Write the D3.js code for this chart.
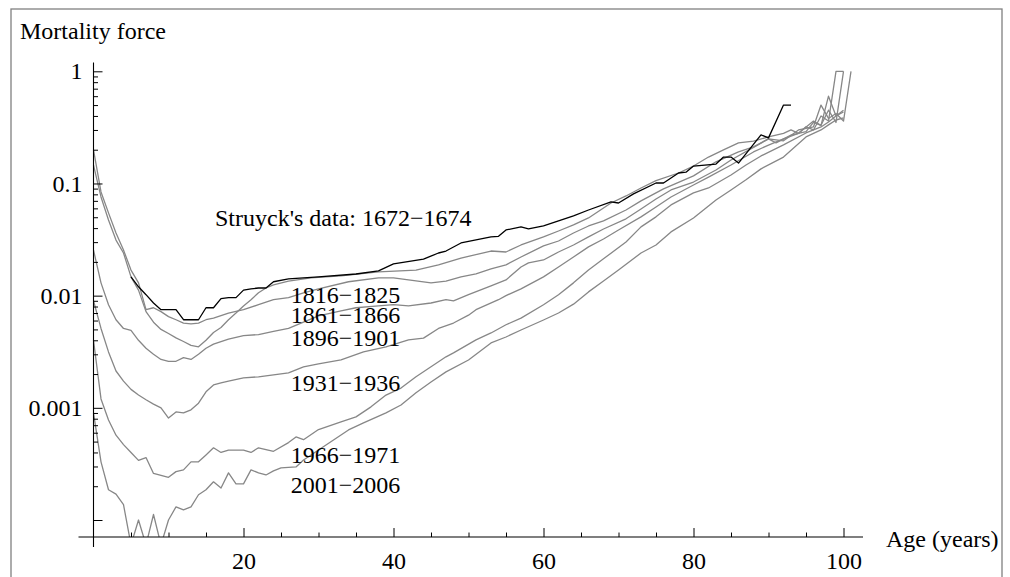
<!DOCTYPE html>
<html>
<head>
<meta charset="utf-8">
<script src="https://cdn.jsdelivr.net/npm/d3@7"></script>
<style>
body { margin: 0; background: #fff; }
svg text { font-family: "Liberation Serif", "Times New Roman", Times, serif; font-size: 24px; fill: #000; }
</style>
</head>
<body>
<svg id="chart" width="1010" height="577"></svg>
<script>
// mortality force by age

var struyckAge = [5,6,7,8,9,10,11,12,13,14,15,16,17,18,19,20,21,22,23,24,26,30,35,38,40,44,46,47,49,53,54,55,57,58,60,62,64,66,69,70,72,75,76,78,79,80,83,84,85,86,89,90,92,93];
var struyckRate = [0.0147,0.0120,0.0102,0.0086,0.0075,0.0075,0.0075,0.0061,0.0061,0.0061,0.0078,0.0078,0.0094,0.0096,0.0096,0.0112,0.0115,0.0117,0.0117,0.0133,
    0.0141,0.0147,0.0156,0.0166,0.0192,0.0212,0.0240,0.0250,0.0295,0.0334,0.0338,0.0385,0.0410,0.0393,0.0418,0.0464,0.0515,0.058,0.0685,0.067,0.0808,
    0.101,0.101,0.124,0.126,0.143,0.149,0.172,0.172,0.152,0.271,0.255,0.50,0.50];

var age1816 = [0,1,2,3,4,5,6,7,8,9,10,11,12,13,14,15,16,17,18,19,20,21,22,23,24,26,29,33,38,43,46,49,53,55,57,60,62,64,66,69,71,73,75,78,80,82,84,86,88,90,92,93,94,95,96,97,98,99,100];
var rate1816 = [0.146,0.0758,0.0473,0.0313,0.024,0.0147,0.0112,0.0072,0.0058,0.0050,0.0046,0.0042,0.0039,0.0036,0.0035,0.0040,0.0047,0.0052,0.0061,0.0070,0.0081,0.0092,0.0106,0.0117,0.0125,
    0.0135,0.0144,0.0150,0.0163,0.0169,0.0188,0.0216,0.0250,0.0245,0.0283,0.0334,0.0377,0.0427,0.0493,0.067,0.0774,0.0912,0.106,0.124,0.143,0.172,0.199,0.23,0.239,
    0.26,0.28,0.30,0.28,0.32,0.30,0.40,0.36,1.0,1.0];

var age1861 = [0,1,2,3,4,5,6,7,8,9,10,11,12,13,14,15,16,18,20,22,24,26,28,30,34,38,40,42,45,47,49,51,53,55,57,60,62,64,66,68,71,73,76,80,83,86,88,90,91,93,95,96,97,98,99,100];
var rate1861 = [0.199,0.084,0.0547,0.0362,0.0255,0.0169,0.0130,0.0075,0.0078,0.0072,0.0065,0.0061,0.0057,0.0056,0.0057,0.0061,0.0063,
    0.0070,0.0075,0.0083,0.0092,0.0096,0.0106,0.0115,0.0133,0.0144,0.0144,0.0138,0.0130,0.0135,0.0147,0.0156,0.0173,0.0188,0.0221,0.0278,0.0307,0.0362,0.0418,0.0464,
    0.058,0.0699,0.0894,0.117,0.156,0.191,0.212,0.25,0.23,0.27,0.29,0.35,0.33,0.45,0.35,1.0];

var age1896 = [0,1,2,3,4,5,6,7,8,9,10,11,12,13,14,15,16,18,20,22,24,26,28,30,33,35,38,40,42,45,47,48,50,53,55,57,58,60,62,64,66,68,71,73,75,77,80,83,85,88,90,92,94,96,97,98,99,100,101];
var rate1896 = [0.0255,0.0130,0.0083,0.0061,0.0051,0.0049,0.0040,0.0034,0.0030,0.0027,0.0026,0.0026,0.0028,0.0027,0.0030,0.0034,0.0037,
    0.0041,0.0044,0.0045,0.0048,0.0051,0.0058,0.0066,0.0073,0.0078,0.0081,0.0083,0.0081,0.0086,0.0092,0.0090,0.0102,0.0122,0.0138,0.0180,0.0196,0.0208,0.0245,0.0283,
    0.0334,0.0393,0.0484,0.0593,0.0728,0.0875,0.103,0.132,0.162,0.21,0.25,0.24,0.30,0.32,0.50,0.38,0.42,0.36,1.0];

var age1931 = [0,1,2,3,4,5,6,7,8,9,10,11,12,13,14,15,16,17,18,20,22,24,26,28,30,33,36,39,42,44,46,48,50,51,54,55,57,60,62,64,66,68,70,73,75,77,80,82,85,88,90,92,94,96,97,98,99,100];
var rate1931 = [0.0090,0.0051,0.00315,0.00213,0.00173,0.00146,0.0013,0.00118,0.00108,0.0010,0.00081,0.00092,0.00090,0.00096,0.0011,0.00139,0.0016,0.00167,0.00173,
    0.00185,0.00189,0.00197,0.00205,0.00232,0.00247,0.00267,0.00315,0.00349,0.00403,0.00418,0.0051,0.0057,0.0067,0.0075,0.0092,0.0100,0.0115,0.0147,0.0180,0.0221,
    0.0272,0.0320,0.0385,0.0504,0.0618,0.0758,0.097,0.114,0.146,0.191,0.22,0.25,0.28,0.36,0.33,0.60,0.40,0.45];

var age1966 = [0,1,2,3,4,5,6,7,8,9,10,11,12,13,14,15,16,17,18,20,21,22,24,26,27,28,30,33,35,37,39,41,43,45,47,48,51,53,55,57,60,62,64,66,68,71,73,75,77,80,82,85,87,89,92,95,97,98,99,100];
var rate1966 = [0.0040,0.0012,0.00078,0.00057,0.00047,0.00040,0.00034,0.00036,0.00026,0.00025,0.00024,0.00027,0.00028,0.00033,0.00033,0.00038,0.00044,0.00040,0.00042,
    0.00042,0.00040,0.00044,0.00041,0.00049,0.00055,0.00052,0.00064,0.00075,0.00083,0.00102,0.0013,0.0015,0.00189,0.00232,0.00285,0.00309,0.00403,0.00465,0.0055,0.0063,
    0.0083,0.0102,0.0130,0.0169,0.0213,0.0301,0.041,0.0504,0.0644,0.0824,0.0912,0.119,0.146,0.176,0.221,0.282,0.319,0.353,0.40,0.434];

var age2001 = [0,1,2,3,4,5,6,7,8,9,10,11,12,13,14,15,16,17,18,19,20,21,22,23,24,25,27,28,30,32,34,36,39,41,43,45,47,50,53,55,57,60,62,64,66,68,70,73,75,77,80,83,85,87,89,92,95,97,98,99,100];
var rate2001 = [0.0009,0.00033,0.000186,0.00017,0.000137,0.00006,0.0001,0.00006,0.000112,0.00006,0.0001,0.000131,0.000123,0.000131,0.000168,0.000186,0.000219,0.000193,0.000263,0.00021,0.00021,0.00028,0.000263,0.000252,0.000274,0.000291,
    0.000297,0.000343,0.000421,0.000517,0.000635,0.000733,0.000902,0.00106,0.00136,0.0017,0.00209,0.00267,0.00379,0.00428,0.00494,0.00607,0.0070,0.0084,0.0108,0.0135,
    0.0169,0.024,0.0283,0.037,0.0493,0.0713,0.0875,0.108,0.135,0.172,0.26,0.30,0.333,0.368,0.384];

var periodNames = ["1816\u22121825", "1861\u22121866", "1896\u22121901", "1931\u22121936", "1966\u22121971", "2001\u22122006"];
var struyckName = "Struyck's data: 1672\u22121674";

var xTicks = [20, 40, 60, 80, 100];
var yTicks = [1e-4, 0.001, 0.01, 0.1, 1];
var yTickLabels = ["", "0.001", "0.01", "0.1", "1"];

// where the curve names sit, in data coordinates (age, rate) of the text baseline start
var labelAge = [26.3, 26.3, 26.3, 26.3, 26.3, 26.3];
var labelRate = [0.00855, 0.00575, 0.00356, 0.00142, 0.00032, 0.000173];
var struyckLabelAt = [16.2, 0.042];

var svg = d3.select("#chart");

var x = d3.scaleLinear().domain([0, 100]).range([93.5, 843.5]);
var y = d3.scaleLog().domain([1e-4, 1]).range([520, 71.3]);

var xLo = -2, xHi = 102.6, yLo = 7.05e-5, yHi = 1.2;

// outer frame
svg.append("rect")
    .attr("x", 11).attr("y", 9)
    .attr("width", 991).attr("height", 600)
    .attr("fill", "none")
    .attr("stroke", "#808080")
    .attr("stroke-width", 1.3);

svg.append("clipPath").attr("id", "plotclip")
    .append("rect")
    .attr("x", x(xLo)).attr("y", y(yHi))
    .attr("width", x(xHi) - x(xLo))
    .attr("height", y(yLo) - y(yHi));

function zip(ages, rates) {
    return ages.map(function(a, i) { return [a, rates[i]]; });
}

var line = d3.line()
    .x(function(d) { return x(d[0]); })
    .y(function(d) { return y(d[1]); });

var periods = [
    zip(age1816, rate1816),
    zip(age1861, rate1861),
    zip(age1896, rate1896),
    zip(age1931, rate1931),
    zip(age1966, rate1966),
    zip(age2001, rate2001)
];

var plot = svg.append("g").attr("clip-path", "url(#plotclip)");

plot.selectAll("path.period")
    .data(periods)
    .enter().append("path")
    .attr("class", "period")
    .attr("d", line)
    .attr("fill", "none")
    .attr("stroke", "#878787")
    .attr("stroke-width", 1.3)
    .attr("stroke-linejoin", "round");

plot.append("path")
    .datum(zip(struyckAge, struyckRate))
    .attr("d", line)
    .attr("fill", "none")
    .attr("stroke", "#000")
    .attr("stroke-width", 1.3)
    .attr("stroke-linejoin", "round");

// axes, Mathematica style: ticks point inward, axes cross at the bottom left
var axisG = svg.append("g").attr("stroke", "#000");

axisG.append("line")
    .attr("x1", x(xLo)).attr("x2", x(xHi))
    .attr("y1", y(yLo)).attr("y2", y(yLo))
    .attr("stroke-width", 1.1);
axisG.append("line")
    .attr("x1", x(0)).attr("x2", x(0))
    .attr("y1", y(yHi)).attr("y2", y(yLo) + 10)
    .attr("stroke-width", 1.1);

var xMinor = d3.range(5, 101, 5).filter(function(v) { return v % 20 != 0; });

var xAxis = d3.axisBottom(x).tickValues(xTicks).tickSize(-9).tickPadding(15).tickFormat(d3.format("d"));
var xAxisMinor = d3.axisBottom(x).tickValues(xMinor).tickSize(-4.5).tickFormat("");

var gx = svg.append("g").attr("transform", "translate(0," + y(yLo) + ")").call(xAxis);
var gx2 = svg.append("g").attr("transform", "translate(0," + y(yLo) + ")").call(xAxisMinor);

var yMinor = [];
[1e-4, 1e-3, 1e-2, 0.1].forEach(function(dec) {
    for (var k = 2; k <= 9; k++) yMinor.push(k * dec);
});

var yAxis = d3.axisLeft(y).tickValues(yTicks).tickSize(-9).tickPadding(11)
    .tickFormat(function(d, i) { return yTickLabels[i]; });
var yAxisMinor = d3.axisLeft(y).tickValues(yMinor).tickSize(-4.5).tickFormat("");

var gy = svg.append("g").attr("transform", "translate(" + x(0) + ",0)").call(yAxis);
var gy2 = svg.append("g").attr("transform", "translate(" + x(0) + ",0)").call(yAxisMinor);

[gx, gx2, gy, gy2].forEach(function(g) {
    g.attr("font-family", null).attr("font-size", null);
    g.select(".domain").remove();
    g.selectAll(".tick line").attr("stroke", "#000").attr("stroke-width", 1);
    g.selectAll(".tick text").attr("fill", "#000");
});

// axis titles
svg.append("text").attr("x", 20).attr("y", 39).text("Mortality force");
svg.append("text").attr("x", 886).attr("y", 547).text("Age (years)");

// curve names
svg.append("text")
    .attr("x", x(struyckLabelAt[0]))
    .attr("y", y(struyckLabelAt[1]))
    .text(struyckName);

svg.selectAll("text.period")
    .data(periodNames)
    .enter().append("text")
    .attr("class", "period")
    .attr("x", function(d, i) { return x(labelAge[i]); })
    .attr("y", function(d, i) { return y(labelRate[i]); })
    .text(function(d) { return d; });
</script>
</body>
</html>
